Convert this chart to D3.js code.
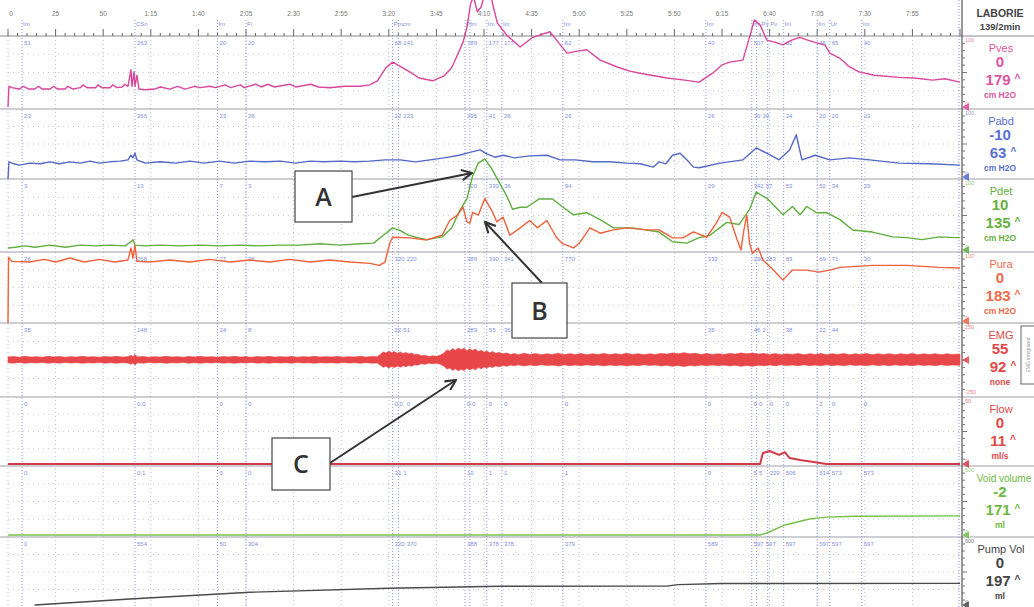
<!DOCTYPE html>
<html>
<head>
<meta charset="utf-8">
<script src="https://cdn.jsdelivr.net/npm/d3@7"></script>
<style>
  body { margin: 0; background: #fff; }
  svg { display: block; font-family: "Liberation Sans", Arial, sans-serif; }
</style>
</head>
<body>
<div id="chart"></div>
<script>
// DATA ------------------------------------------------------------------------
const tickSeconds = [0,25,50,75,100,125,150,175,200,225,250,275,300,325,350,375,400,425,450,475];
const tickLabels = ["0","25","50","1:15","1:40","2:05","2:30","2:55","3:20","3:45","4:10","4:35","5:00","5:25","5:50","6:15","6:40","7:05","7:30","7:55"];

const eventSeconds = [7.4,66.7,110,125,202,205,240,242.6,251.5,259.4,291.4,366.5,390.6,393.2,399,407.4,425,431.6,448.4];
const eventNames   = ["Im","CSn","Im","Fi","Pmcm","","Pfm","","Im","Im","Im","Im","Im","Pv","Pv","Im","Im","Ur","Im"];

// value printed under each event, one list per channel
const pvesMarks  = ["51","263","20","20","68","241","789","","177","177","62","40","507","","","62","46","65","40"];
const pabdMarks  = ["23","266","23","26","22","223","295","","41","26","26","26","30","30","","24","20","20","23"];
const pdetMarks  = ["3","13","7","3","","","320","","330","36","94","29","342","57","","53","52","34","29"];
const puraMarks  = ["26","268","27","26","320","220","389","","390","341","770","332","290","283","","83","69","71","30"];
const emgMarks   = ["35","148","24","8","22","51","289","","55","36","","35","46","2","","38","22","44",""];
const flowMarks  = ["0","0.0","0","0","0.0","0","0.0","","0","0","0","0","0","0","0","0","2","0","0"];
const voidMarks  = ["0","0.1","0","0","31","1","10","","1","1","1","0","5","5","229","506","514","573","573"];
const pumpMarks  = ["0","554","50","304","320","370","388","","378","378","379","589","597","597","","597","597","597","597"];

const channelNames = ["Pves","Pabd","Pdet","Pura","EMG","Flow","Void volume","Pump Vol"];
const channelNow   = ["0","-10","10","0","55","0","-2","0"];
const channelMax   = ["179","63","135","183","92","11","171","197"];
const channelUnits = ["cm H2O","cm H2O","cm H2O","cm H2O","none","ml/s","ml","ml"];
const scaleHigh    = [100,100,100,100,250,50,600,600];
const scaleLow     = [0,0,0,0,-250,0,0,0];

// traces: [seconds, value]
const pves = [[0,0],[0.5,30],[2,28],[6,26],[8,30],[11,26],[14,26],[16,30],[18,26],[22,26],[24,30],[26,26],[30,26],[31.5,30],[34,26],
  [38,28],[39.4,32],[41.5,28],[46,28],[47.3,32],[49.4,28],[53.6,28],[55,32],[57.2,28],[60,29],[61.4,33],[63,30],[64.6,54],[65.1,30],
  [66.2,51],[66.7,30],[67.7,46],[68.8,26],[72,25],[77,26],[80,29],[85,26],[89,30],[93,26],[98,30],[101,28],[106,30],[109,28],[114,32],
  [117,28],[122,32],[124,28],[130,33],[133,29],[136.5,33],[140,29],[148,33],[151,29],[159,33],[163,29],[169,28],[177,30],[185,30],
  [190,32],[194,38],[198.5,57],[202,65],[206,59],[211,51],[216,42],[223,38],[229,45],[233,57],[236,75],[239,94],[241,115],[243,150],
  [244.5,160],[246.5,138],[248.5,145],[250.5,165],[252.5,179],[254.5,150],[257,122],[262,104],[269,87],[275.6,101],[284.6,109],[289,94],
  [293.5,78],[299,81],[304,83],[311,68],[320,58],[326.6,52],[332,49],[346,42],[355.4,39],[363,36],[370,49],[375,61],[379,65],[386,68],
  [389,97],[392,126],[395,119],[398.5,97],[402.7,94],[407,90],[411.6,97],[415.8,101],[420,97],[424.7,93],[429,90],[431.6,78],[436.8,71],
  [442,58],[447,51],[455,46],[468,43],[476,42],[485.6,39],[492,41],[500,36]];

const pabd = [[0,-3],[0.5,23],[3,20],[6,18],[11.5,21],[17,20],[22,23],[27,20],[32.5,23],[38,21],[43,24],[48,21],[53.5,23],[59,24],
  [63,26],[64.6,33],[65.6,29],[66.7,36],[67.7,26],[72,21],[80,23],[88,21],[95.5,24],[103,21],[111,24],[119,21],[127,24],[135,23],
  [143,24],[151,21],[158.6,24],[166,23],[174,24],[182,23],[190,24],[198,26],[206,26],[214,23],[221.6,26],[229,29],[237,33],[243.6,38],
  [248,41],[251.5,35],[255.7,30],[260,33],[266,29],[274,32],[283,33],[290,26],[298,26],[307,23],[316,23],[325,21],[332,20],[339,15],
  [342,23],[345.5,20],[349,33],[353,36],[356.5,26],[360,15],[363,14],[374,21],[386,26],[393,44],[398.5,36],[405,26],[410.5,41],
  [414,64],[417,26],[424,33],[431.6,26],[442,29],[452.5,26],[468,21],[484,20],[500,18]];

const pdet = [[0,3],[3.7,4],[9,6],[14,4],[22,7],[30,4],[38,7],[46,6],[53.6,7],[61.4,6],[64.6,12],[65.6,15],[66.7,7],[72,6],[80,7],
  [90,6],[101,7],[111,6],[122,7],[132,6],[143,7],[153,7],[164,9],[174,7],[185,9],[192,10],[197,21],[202,32],[206,28],[210,22],
  [215,18],[220,15],[228,19],[233,32],[237,56],[241,74],[244,107],[247,126],[250.4,132],[254,118],[258,98],[262,78],[265,59],[269,62],
  [272.5,62],[279,74],[286,74],[291,63],[297,51],[304,54],[311,44],[318,32],[328,32],[342,26],[349,12],[356.5,10],[363,18],[368.5,21],
  [377.5,40],[384,37],[389.5,59],[393,84],[399,74],[407,51],[412,63],[416,51],[419.5,63],[424.7,54],[430,54],[437,44],[443.6,29],
  [454,26],[464.6,19],[472,18],[480,15],[489,19],[498,18],[500,18]];

const pura = [[0,-3],[0.3,95],[2,89],[11.5,88],[19,92],[25,88],[32.5,94],[40,88],[48,92],[56,88],[63,91],[64.6,109],[65.6,94],
  [66.7,113],[67.7,89],[74.5,88],[85,91],[95.5,88],[106,92],[116.6,88],[127,91],[137.5,88],[148,92],[158.6,88],[169,91],[179.6,88],
  [190,86],[195,83],[198,88],[200.5,116],[202,125],[211,124],[220,121],[228,128],[232,150],[236,158],[239,170],[241,148],[242.6,146],
  [244,162],[247,158],[250.4,183],[254.6,162],[256.7,148],[260,155],[263.6,128],[269,139],[274,150],[278,139],[283,150],[288,125],
  [291,116],[297,109],[300,116],[305.6,139],[311,131],[318,136],[325,139],[335.5,136],[342,136],[349,124],[354.5,124],[360,133],
  [367,125],[372,146],[375,162],[379,155],[383,121],[385,106],[386.5,136],[388,158],[389.5,116],[391,101],[394,109],[396.5,91],
  [402,76],[407,61],[412,76],[419.5,76],[426,73],[431.6,76],[437,80],[454,83],[472,83],[489,80],[500,79]];

// EMG envelope (half amplitude, read as the band's ragged edge)
const emgEnvelope = [[0,22],[3,25],[6,20],[9,26],[12,21],[15,24],[18,20],[21,26],[24,22],[27,25],[30,20],[33,24],[36,21],[39,26],
  [42,22],[45,24],[48,20],[51,25],[54,22],[57,26],[60,21],[63,24],[64.6,34],[65.5,24],[66.7,40],[68,22],[71,25],[74,20],[77,24],
  [80,21],[83,26],[86,22],[89,24],[92,20],[95,25],[98,22],[101,26],[104,21],[107,24],[110,20],[113,25],[116,22],[119,26],[122,21],
  [125,24],[128,20],[131,25],[134,22],[137,26],[140,21],[143,24],[146,22],[149,25],[152,20],[155,24],[158,22],[161,26],[164,21],
  [167,24],[170,22],[173,25],[176,20],[179,24],[182,22],[185,26],[188,21],[191,25],[194,24],
  [196,45],[197,58],[198.5,50],[200,64],[201.5,52],[203,60],[204.5,48],[206,58],[207.5,46],[209,54],[210.5,44],[212,50],[213.5,38],
  [215,42],[217,30],[219,34],[221,25],[223,30],[225,26],[227,34],[229,50],[230.5,72],[232,64],[233.5,82],[235,70],[236.5,86],[238,74],
  [239.5,84],[241,66],[242.5,80],[244,68],[245.5,78],[247,60],[248.5,70],[250,56],[251.5,64],[253,52],[254.5,60],[256,48],[258,54],
  [260,44],[262,50],[264,40],[266,46],
  [268,38],[271,48],[274,40],[277,46],[280,38],[283,44],[286,40],[289,48],[292,38],[295,45],[298,40],[301,46],[304,38],[307,44],
  [310,40],[313,47],[316,39],[319,45],[322,40],[325,48],[328,40],[331,45],[334,38],[337,44],[340,40],[343,47],[346,42],[349,50],
  [352,44],[355,52],[358,44],[361,48],[364,40],[367,46],[370,40],[373,45],[376,40],[379,47],[382,42],[385,50],[388,44],[391,50],
  [394,42],[397,46],[400,40],[403,46],[406,38],[409,44],[412,40],[415,46],[418,38],[421,45],[424,40],[427,46],[430,38],[433,44],
  [436,40],[439,46],[442,38],[445,44],[448,40],[451,46],[454,38],[457,44],[460,40],[463,45],[466,38],[469,44],[472,40],[475,46],
  [478,38],[481,44],[484,40],[487,45],[490,38],[493,44],[496,40],[500,42]];

const flow = [[0,0],[395,0],[396.5,8.5],[400,10],[405,7],[408,9.2],[410.5,4.6],[416,3],[423,1.5],[430,0],[500,0]];
const voidVolume = [[0,0],[395,0],[398.5,18],[408,90],[421,143],[430,160],[445,168],[500,171]];
const pumpVol = [[14,0],[64,54],[127,116],[200,152],[258,170],[346,172],[352,185],[375,195],[500,197]];

// CHART -----------------------------------------------------------------------
class UroTrace {
  constructor(div){
    this.elements = { scales: {} };
    this.settings = {
      container: div,
      width: 1034, height: 607,
      plotLeft: 8, plotRight: 960, axisY: 36,
      bands: [36,109,179,252,323,397,466,537,607],
      panelX: 962, labelX: 1000,
      traceColors: ["#d9469b","#5468c8","#5fae3e","#f0603a","#e8474a","#d23a4a","#78c04a","#4a4a4a"],
      textColors: ["#e0559f","#5a70d0","#66b040","#f06a4a","#e04848","#e04848","#6cb840","#444444"],
      eventColor: "#7f8fe0",
      gridColor: "#b8bed6",
      smallFont: 6,
    };
  }

  render(){
    this.createSvg();
    this.createScales();
    this.drawGrid();
    this.drawSeparators();
    this.drawTimeAxis();
    this.drawEvents();
    this.drawTraces();
    this.drawPanel();
    this.drawAnnotations();
  }

  createSvg(){
    const { container, width, height } = this.settings;
    this.elements.svg = d3.select(container).append("svg")
      .attr("width", width).attr("height", height);
    const marker = this.elements.svg.append("defs").append("marker")
      .attr("id", "arrowHead").attr("viewBox", "0 0 10 10")
      .attr("refX", 9).attr("refY", 5)
      .attr("markerUnits", "userSpaceOnUse")
      .attr("markerWidth", 13).attr("markerHeight", 13)
      .attr("orient", "auto");
    marker.append("path").attr("d", "M1,1 L9,5 L1,9")
      .attr("fill", "none").attr("stroke", "#333").attr("stroke-width", 1.6);
  }

  createScales(){
    const { plotLeft, plotRight, bands } = this.settings;
    this.elements.scales.x = d3.scaleLinear().domain([0, 500]).range([plotLeft, plotRight]);
    this.elements.scales.y = channelNames.map((n, i) =>
      d3.scaleLinear().domain([scaleLow[i], scaleHigh[i]]).range([bands[i + 1] - 2, bands[i] + 2]));
  }

  // push close labels to the right so that they sit side by side
  spreadLabels(list){
    const { scales: { x } } = this.elements;
    const charW = this.settings.smallFont * 0.56;
    let lastEnd = -Infinity;
    return eventSeconds.map((t, i) => {
      const text = list[i];
      if (!text) return null;
      const pos = Math.max(x(t) + 2, lastEnd + 2);
      lastEnd = pos + text.length * charW;
      return { x: pos, text };
    }).filter(d => d);
  }

  drawGrid(){
    const { svg, scales: { x } } = this.elements;
    const { bands, gridColor, plotLeft, plotRight } = this.settings;
    const g = svg.append("g").attr("class", "grid");

    g.selectAll(".vgrid").data(tickSeconds).enter().append("line")
      .attr("x1", d => x(d)).attr("x2", d => x(d))
      .attr("y1", bands[0]).attr("y2", bands[8])
      .attr("stroke", gridColor).attr("stroke-dasharray", "1,3");

    channelNames.forEach((n, i) => {
      const h = bands[i + 1] - bands[i];
      [0.25, 0.5, 0.75].forEach(f => {
        g.append("line")
          .attr("x1", plotLeft).attr("x2", plotRight)
          .attr("y1", bands[i] + h * f).attr("y2", bands[i] + h * f)
          .attr("stroke", gridColor).attr("stroke-dasharray", "1,4").attr("opacity", 0.8);
      });
    });
  }

  drawSeparators(){
    const { svg } = this.elements;
    const { bands, width } = this.settings;
    svg.append("g").selectAll("line").data(bands.slice(1, 8)).enter().append("line")
      .attr("x1", 0).attr("x2", width)
      .attr("y1", d => d).attr("y2", d => d)
      .attr("stroke", "#a0a0a8").attr("stroke-width", 1.2);
  }

  drawTimeAxis(){
    const { svg, scales: { x } } = this.elements;
    const { axisY, width } = this.settings;
    const g = svg.append("g").attr("class", "time-axis");

    g.append("line").attr("x1", 0).attr("x2", width)
      .attr("y1", axisY).attr("y2", axisY)
      .attr("stroke", "#8a8a90").attr("stroke-width", 1.2);

    const minor = d3.range(0, 501, 5);
    g.selectAll(".tick").data(minor).enter().append("line")
      .attr("x1", d => x(d)).attr("x2", d => x(d))
      .attr("y1", d => d % 25 === 0 ? axisY - 7 : axisY - 3)
      .attr("y2", axisY)
      .attr("stroke", "#666").attr("stroke-width", 1);

    g.selectAll(".tlabel").data(tickSeconds).enter().append("text")
      .attr("x", d => x(d) + (d === 0 ? 3 : 0)).attr("y", 16)
      .attr("text-anchor", "middle")
      .attr("font-size", 6.5).attr("fill", "#777")
      .text((d, i) => tickLabels[i]);
  }

  drawEvents(){
    const { svg, scales: { x } } = this.elements;
    const { bands, eventColor, smallFont } = this.settings;
    const g = svg.append("g").attr("class", "events");

    g.selectAll(".eline").data(eventSeconds).enter().append("line")
      .attr("x1", d => x(d)).attr("x2", d => x(d))
      .attr("y1", 20).attr("y2", bands[8])
      .attr("stroke", eventColor).attr("stroke-width", 1)
      .attr("stroke-dasharray", "1,2").attr("opacity", 0.9);
    g.append("line").attr("x1", 959).attr("x2", 959).attr("y1", 0).attr("y2", bands[8])
      .attr("stroke", eventColor).attr("stroke-dasharray", "1,2");

    g.selectAll(".ename").data(this.spreadLabels(eventNames)).enter().append("text")
      .attr("x", d => d.x - 1).attr("y", 26)
      .attr("font-size", smallFont).attr("fill", eventColor)
      .text(d => d.text);

    const marks = [pvesMarks, pabdMarks, pdetMarks, puraMarks, emgMarks, flowMarks, voidMarks, pumpMarks];
    marks.forEach((list, c) => {
      g.selectAll(`.mark${c}`).data(this.spreadLabels(list)).enter().append("text")
        .attr("x", d => d.x).attr("y", bands[c] + 9)
        .attr("font-size", smallFont).attr("fill", eventColor)
        .text(d => d.text);
    });
  }

  drawTraces(){
    const { svg, scales: { x, y } } = this.elements;
    const { traceColors } = this.settings;
    const g = svg.append("g").attr("class", "traces");
    const traces = [pves, pabd, pdet, pura, null, flow, voidVolume, pumpVol];

    // EMG as a filled band around zero
    const emgArea = d3.area()
      .x(d => x(d[0]))
      .y0(d => y[4](-d[1] * 0.9))
      .y1(d => y[4](d[1]));
    g.append("path").attr("d", emgArea(emgEnvelope))
      .attr("fill", traceColors[4]).attr("stroke", traceColors[4]).attr("stroke-width", 0.6);

    traces.forEach((data, i) => {
      if (!data) return;
      const line = d3.line().x(d => x(d[0])).y(d => y[i](d[1]));
      g.append("path").attr("d", line(data))
        .attr("fill", "none")
        .attr("stroke", traceColors[i])
        .attr("stroke-width", i === 5 ? 2 : 1.4)
        .attr("stroke-linejoin", "round");
    });
  }

  drawPanel(){
    const { svg, scales: { y } } = this.elements;
    const { bands, panelX, labelX, textColors, traceColors } = this.settings;
    const g = svg.append("g").attr("class", "panel");

    g.append("line").attr("x1", panelX).attr("x2", panelX).attr("y1", 0).attr("y2", bands[8])
      .attr("stroke", "#555").attr("stroke-width", 1.2);

    g.append("text").attr("x", labelX).attr("y", 17).attr("text-anchor", "middle")
      .attr("font-size", 10.5).attr("font-weight", "bold").attr("fill", "#444").text("LABORIE");
    g.append("text").attr("x", labelX).attr("y", 30).attr("text-anchor", "middle")
      .attr("font-size", 9.5).attr("font-weight", "bold").attr("fill", "#444").text("139/2min");

    channelNames.forEach((name, i) => {
      const top = bands[i];
      const bottom = bands[i + 1];
      const h = bottom - top;
      const longName = name.length > 8;

      // small ticks on the panel axis
      d3.range(1, 10).forEach(k => {
        g.append("line")
          .attr("x1", panelX).attr("x2", panelX + (k === 5 ? 5 : 3))
          .attr("y1", top + h * k / 10).attr("y2", top + h * k / 10)
          .attr("stroke", "#777");
      });

      g.append("text").attr("x", 965).attr("y", top + 6)
        .attr("font-size", 5.5).attr("fill", textColors[i]).attr("opacity", 0.7)
        .text(scaleHigh[i]);
      g.append("text").attr("x", 965).attr("y", bottom - 3)
        .attr("font-size", 5.5).attr("fill", textColors[i]).attr("opacity", 0.7)
        .text(scaleLow[i]);

      const zeroY = y[i](0);
      g.append("path")
        .attr("d", `M${panelX},${zeroY} L${panelX + 7},${zeroY - 4} L${panelX + 7},${zeroY + 4} Z`)
        .attr("fill", traceColors[i]).attr("opacity", 0.85);

      g.append("text").attr("x", labelX + (longName ? 4 : 1)).attr("y", top + 15.5).attr("text-anchor", "middle")
        .attr("font-size", longName ? 10 : 11).attr("fill", textColors[i]).text(name);
      g.append("text").attr("x", labelX).attr("y", top + 30.5).attr("text-anchor", "middle")
        .attr("font-size", 15).attr("font-weight", "bold").attr("fill", textColors[i]).text(channelNow[i]);
      const maxText = g.append("text").attr("x", labelX + 3).attr("y", top + 49).attr("text-anchor", "middle")
        .attr("font-size", 15).attr("font-weight", "bold").attr("fill", textColors[i]);
      maxText.append("tspan").text(channelMax[i]);
      maxText.append("tspan").attr("font-size", 10).attr("dx", 4).attr("dy", -3).text("^");
      g.append("text").attr("x", labelX).attr("y", top + 62).attr("text-anchor", "middle")
        .attr("font-size", 8.5).attr("font-weight", "bold").attr("fill", textColors[i]).text(channelUnits[i]);
    });

    // boxed side label of the EMG channel
    g.append("rect").attr("x", 1021).attr("y", 326).attr("width", 16).attr("height", 58)
      .attr("fill", "none").attr("stroke", "#666");
    g.append("text").attr("transform", "translate(1030,355) rotate(-90)")
      .attr("text-anchor", "middle").attr("font-size", 5).attr("fill", "#999").text("EMG integrated");
  }

  drawAnnotations(){
    const { svg } = this.elements;
    const g = svg.append("g").attr("class", "annotations");
    const boxes = [
      { label: "A", x: 295, y: 171, w: 57, h: 51, from: [352, 197], to: [472, 173] },
      { label: "B", x: 512, y: 283, w: 55, h: 55, from: [542, 283], to: [485, 222] },
      { label: "C", x: 272, y: 438, w: 58, h: 52, from: [330, 463], to: [456, 380] },
    ];
    boxes.forEach(b => {
      g.append("line")
        .attr("x1", b.from[0]).attr("y1", b.from[1]).attr("x2", b.to[0]).attr("y2", b.to[1])
        .attr("stroke", "#333").attr("stroke-width", 2)
        .attr("marker-end", "url(#arrowHead)");
      g.append("rect").attr("x", b.x).attr("y", b.y).attr("width", b.w).attr("height", b.h)
        .attr("fill", "#fff").attr("stroke", "#444").attr("stroke-width", 1.2);
      g.append("text").attr("x", b.x + b.w / 2).attr("y", b.y + b.h / 2 + 9)
        .attr("text-anchor", "middle")
        .attr("font-family", "'Open Sans', 'DejaVu Sans', sans-serif")
        .attr("font-size", 25).attr("font-weight", 600).attr("fill", "#333")
        .text(b.label);
    });
  }
}

const chart = new UroTrace(document.getElementById("chart"));
chart.render();
</script>
</body>
</html>
